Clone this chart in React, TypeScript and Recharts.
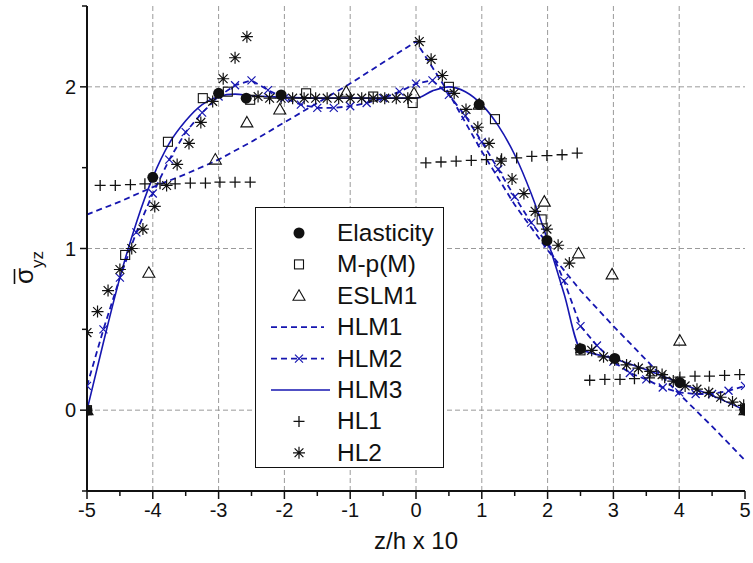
import React from 'react';
import { ComposedChart, Line, Scatter, XAxis, YAxis, CartesianGrid } from 'recharts';

const FONT = '"Liberation Sans", Arial, sans-serif';
const BLUE = '#1616b0';
const INK = '#111';

// axis ticks
const X_TICKS = [-5, -4, -3, -2, -1, 0, 1, 2, 3, 4, 5];
const X_MINOR = [-4.5, -3.5, -2.5, -1.5, -0.5, 0.5, 1.5, 2.5, 3.5, 4.5];
const Y_TICKS = [0, 1, 2];
const Y_MINOR = [-0.5, 0.5, 1.5, 2.5];

// Elasticity (filled circles)
const ELAS_X = [-5, -4, -3, -2.58, -2.05, 0.96, 1.99, 2.5, 3.02, 4.01, 5];
const ELAS_Y = [0, 1.44, 1.96, 1.93, 1.95, 1.89, 1.05, 0.38, 0.32, 0.17, 0];

// M-p(M) (open squares)
const MPM_X = [-5, -4.42, -3.77, -3.24, -2.86, -2.52, -1.67, -0.65, -0.05, 0.5, 1.2, 1.91, 2.5, 3.59, 5];
const MPM_Y = [0, 0.96, 1.66, 1.93, 1.97, 1.92, 1.96, 1.94, 1.9, 2.0, 1.8, 1.18, 0.37, 0.24, 0.01];

// ESLM1 (open triangles)
const ESLM_X = [-5, -4.06, -3.05, -2.57, -2.07, -1.06, -0.03, 0.96, 1.95, 2.47, 2.98, 4.01, 5];
const ESLM_Y = [0, 0.85, 1.55, 1.78, 1.86, 1.97, 1.96, 1.89, 1.29, 0.97, 0.84, 0.43, 0];

// HLM1 (dashed)
const HLM1_X = [-5, -4.5, -4, -3.5, -3, -2.5, -2, -1.5, -1, -0.5, 0, 0.5, 1, 1.5, 2, 2.5, 3, 3.5, 4, 4.5, 5];
const HLM1_Y = [1.21, 1.29, 1.38, 1.46, 1.55, 1.66, 1.78, 1.9, 2.02, 2.15, 2.28, 1.96, 1.6, 1.27, 0.99, 0.74, 0.52, 0.31, 0.1, -0.1, -0.31];

// HLM2 (dashed with crosses)
const HLM2_X = [-5, -4.75, -4.5, -4.25, -4, -3.75, -3.5, -3.25, -3, -2.75, -2.5, -2.25, -2, -1.75, -1.5, -1.25, -1, -0.75, -0.5, -0.25,
  0, 0.25, 0.5, 0.75, 1, 1.25, 1.5, 1.75, 2, 2.25, 2.5, 2.75, 3, 3.25, 3.5, 3.75, 4, 4.25, 4.5, 4.75, 5];
const HLM2_Y = [0.15, 0.5, 0.82, 1.1, 1.34, 1.55, 1.72, 1.84, 1.94, 2.01, 2.04, 1.98, 1.93, 1.89, 1.87, 1.87, 1.88, 1.9, 1.93, 1.97,
  2.02, 2.04, 1.95, 1.82, 1.66, 1.49, 1.32, 1.16, 1.03, 0.8, 0.52, 0.4, 0.3, 0.23, 0.19, 0.14, 0.11, 0.1, 0.1, 0.12, 0.15];

// HLM3 (solid)
const HLM3_X = [-5, -4.75, -4.5, -4.25, -4, -3.75, -3.5, -3.25, -3, -2.75, -2.5, -2.25, -2, -1.5, -1, -0.5, 0, 0.25, 0.5, 0.75,
  1, 1.25, 1.5, 1.75, 2, 2.25, 2.5, 3, 3.5, 4, 4.5, 5];
const HLM3_Y = [0, 0.42, 0.82, 1.16, 1.44, 1.65, 1.79, 1.89, 1.94, 1.955, 1.945, 1.94, 1.935, 1.93, 1.93, 1.93, 1.93, 1.975, 2.0, 1.97,
  1.89, 1.76, 1.58, 1.34, 1.05, 0.72, 0.38, 0.32, 0.25, 0.17, 0.09, 0];

// HL1 (plus)
const HL1_X = [-4.8, -4.57, -4.34, -4.12, -3.89, -3.66, -3.43, -3.2, -2.98, -2.75, -2.52,
  0.15, 0.38, 0.61, 0.84, 1.07, 1.3, 1.53, 1.76, 1.99, 2.22, 2.45,
  2.64, 2.87, 3.1, 3.32, 3.55, 3.78, 4.01, 4.24, 4.46, 4.69, 4.92];
const HL1_Y = [1.39, 1.39, 1.395, 1.4, 1.4, 1.4, 1.405, 1.405, 1.41, 1.41, 1.41,
  1.53, 1.535, 1.54, 1.545, 1.55, 1.555, 1.56, 1.57, 1.575, 1.58, 1.59,
  0.185, 0.19, 0.19, 0.195, 0.2, 0.2, 0.205, 0.21, 0.21, 0.215, 0.22];

// HL2 (asterisks)
const HL2_X = [-5, -4.84, -4.68, -4.5, -4.32, -4.15, -3.97, -3.79, -3.63, -3.45, -3.27, -3.09, -2.93, -2.75, -2.57,
  -2.4, -2.225, -2.05, -1.875, -1.7, -1.525, -1.35, -1.175, -1.0, -0.825, -0.65, -0.475, -0.3, -0.125,
  0.05, 0.23, 0.4, 0.58, 0.76, 0.94, 1.11, 1.29, 1.46, 1.64, 1.81, 1.99, 2.16, 2.33,
  2.49, 2.67, 2.85, 3.02, 3.2, 3.38, 3.56, 3.74, 3.91, 4.09, 4.27, 4.45, 4.63, 4.81, 4.98];
const HL2_Y = [0.48, 0.61, 0.74, 0.87, 1.0, 1.12, 1.26, 1.39, 1.52, 1.65, 1.78, 1.91, 2.05, 2.18, 2.31,
  1.94, 1.93, 1.93, 1.93, 1.93, 1.93, 1.93, 1.93, 1.93, 1.93, 1.93, 1.93, 1.93, 1.93,
  2.28, 2.17, 2.07, 1.96, 1.86, 1.75, 1.65, 1.54, 1.43, 1.34, 1.23, 1.12, 1.02, 0.91,
  0.38, 0.37, 0.33, 0.31, 0.28, 0.26, 0.24, 0.22, 0.18, 0.15, 0.13, 0.11, 0.08, 0.05, 0.03];

const LEGEND_NAMES = ['Elasticity', 'M-p(M)', 'ESLM1', 'HLM1', 'HLM2', 'HLM3', 'HL1', 'HL2'];

const pts = (xs: number[], ys: number[]) => xs.map((x, i) => ({ x, y: ys[i] }));

const elas = pts(ELAS_X, ELAS_Y);
const mpm = pts(MPM_X, MPM_Y);
const eslm = pts(ESLM_X, ESLM_Y);
const hlm1 = pts(HLM1_X, HLM1_Y);
const hlm2 = pts(HLM2_X, HLM2_Y);
const hlm3 = pts(HLM3_X, HLM3_Y);
const hl1 = pts(HL1_X, HL1_Y);
const hl2 = pts(HL2_X, HL2_Y);

const ALL_X = [...X_TICKS, ...X_MINOR].sort((a, b) => a - b);
const ALL_Y = [...Y_TICKS, ...Y_MINOR].sort((a, b) => a - b);

// marker shapes, shared by chart and legend
function marker(kind: string, cx: number, cy: number, key?: any) {
  switch (kind) {
    case 'circle':
      return <circle key={key} cx={cx} cy={cy} r={5.5} fill={INK} />;
    case 'square':
      return <rect key={key} x={cx - 4.5} y={cy - 4.5} width={9} height={9} fill="none" stroke={INK} strokeWidth={1.1} />;
    case 'triangle':
      return <path key={key} d={`M${cx},${cy - 6}L${cx + 6},${cy + 4.5}L${cx - 6},${cy + 4.5}Z`} fill="none" stroke={INK} strokeWidth={1.1} />;
    case 'plus':
      return <path key={key} d={`M${cx - 5.5},${cy}H${cx + 5.5}M${cx},${cy - 5.5}V${cy + 5.5}`} stroke={INK} strokeWidth={1.3} />;
    case 'star':
      return <path key={key} d={`M${cx - 6},${cy}H${cx + 6}M${cx},${cy - 6}V${cy + 6}M${cx - 4.4},${cy - 4.4}L${cx + 4.4},${cy + 4.4}M${cx - 4.4},${cy + 4.4}L${cx + 4.4},${cy - 4.4}`} stroke={INK} strokeWidth={1.2} />;
    case 'cross':
      return <path key={key} d={`M${cx - 4},${cy - 4}L${cx + 4},${cy + 4}M${cx - 4},${cy + 4}L${cx + 4},${cy - 4}`} stroke={BLUE} strokeWidth={1.2} />;
    default:
      return <g key={key} />;
  }
}

const shapeOf = (kind: string) => (p: any) => marker(kind, p.cx, p.cy);

function BottomTick({ x, y, payload }: any) {
  const major = X_TICKS.includes(payload.value);
  return (
    <g>
      <line x1={x} x2={x} y1={y} y2={y + (major ? 8 : 5)} stroke={INK} strokeWidth={1.5} />
      {major && (
        <text x={x} y={y + 26} textAnchor="middle" fontSize={20} fontFamily={FONT} fill={INK}>{String(payload.value)}</text>
      )}
    </g>
  );
}

function TopTick({ x, y, payload }: any) {
  const major = X_TICKS.includes(payload.value);
  return <line x1={x} x2={x} y1={y} y2={y + (major ? 10 : 6)} stroke={INK} strokeWidth={1.5} />;
}

function LeftTick({ x, y, payload }: any) {
  const major = Y_TICKS.includes(payload.value);
  return (
    <g>
      <line x1={x} x2={x - (major ? 7 : 5)} y1={y} y2={y} stroke={INK} strokeWidth={1.5} />
      {major && (
        <text x={x - 11} y={y + 7} textAnchor="end" fontSize={20} fontFamily={FONT} fill={INK}>{String(payload.value)}</text>
      )}
    </g>
  );
}

function RightTick({ x, y, payload }: any) {
  const major = Y_TICKS.includes(payload.value);
  return <line x1={x} x2={x - (major ? 10 : 5)} y1={y} y2={y} stroke={INK} strokeWidth={1.5} />;
}

const KINDS: Record<string, string> = {
  'Elasticity': 'circle', 'M-p(M)': 'square', 'ESLM1': 'triangle', 'HL1': 'plus', 'HL2': 'star',
};

function ChartLegend() {
  const rowH = 31.4;
  return (
    <div style={{ position: 'absolute', left: 255, top: 207, width: 187, height: 259, border: '1.3px solid #111', background: '#fff' }}>
      <svg width={187} height={259}>
        {LEGEND_NAMES.map((name, i) => {
          const cy = 25 + i * rowH;
          let icon: any;
          if (name === 'HLM1') icon = <line x1={15} x2={68} y1={cy} y2={cy} stroke={BLUE} strokeWidth={1.8} strokeDasharray="6 4" />;
          else if (name === 'HLM2') icon = (
            <g>
              <line x1={15} x2={68} y1={cy} y2={cy} stroke={BLUE} strokeWidth={1.8} strokeDasharray="6 4" />
              {marker('cross', 43, cy)}
            </g>
          );
          else if (name === 'HLM3') icon = <line x1={15} x2={74} y1={cy} y2={cy} stroke={BLUE} strokeWidth={1.6} />;
          else icon = marker(KINDS[name], 43, cy);
          return (
            <g key={name}>
              {icon}
              <text x={81} y={cy + 8} fontSize={24.5} fontFamily={FONT} fill={INK}>{name}</text>
            </g>
          );
        })}
      </svg>
    </div>
  );
}

export default function App() {
  return (
    <div style={{ position: 'absolute', left: 0, top: 0, width: 753, height: 563, background: '#fff' }}>
      <ComposedChart width={753} height={563} margin={{ top: 6, right: 8, bottom: 0, left: 0 }}>
        <CartesianGrid xAxisId="b" yAxisId="l" verticalValues={X_TICKS.slice(1, -1)} horizontalValues={Y_TICKS}
          stroke="#9a9a9a" strokeDasharray="5 3" />
        <XAxis xAxisId="b" dataKey="x" type="number" domain={[-5, 5]} allowDataOverflow ticks={ALL_X} interval={0}
          tick={BottomTick} tickLine={false} tickSize={0} tickMargin={0} height={72}
          axisLine={{ stroke: INK, strokeWidth: 2 }}
          label={{ value: 'z/h x 10', position: 'insideBottom', offset: 14, fontSize: 24, fontFamily: FONT, fill: INK }} />
        <XAxis xAxisId="top" orientation="top" dataKey="x" type="number" domain={[-5, 5]} allowDataOverflow ticks={ALL_X}
          interval={0} tick={TopTick} tickLine={false} tickSize={0} tickMargin={0} height={0}
          axisLine={{ stroke: INK, strokeWidth: 2 }} />
        <YAxis yAxisId="l" type="number" domain={[-0.5, 2.5]} allowDataOverflow ticks={ALL_Y} interval={0} width={87}
          tick={LeftTick} tickLine={false} tickSize={0} tickMargin={0} axisLine={{ stroke: INK, strokeWidth: 2 }} />
        <YAxis yAxisId="r" orientation="right" type="number" domain={[-0.5, 2.5]} allowDataOverflow ticks={ALL_Y}
          interval={0} width={0} tick={RightTick} tickLine={false} tickSize={0} tickMargin={0}
          axisLine={{ stroke: INK, strokeWidth: 2 }} />

        <Line xAxisId="b" yAxisId="l" data={hlm1} dataKey="y" type="linear" stroke={BLUE} strokeWidth={1.8}
          strokeDasharray="6 4" dot={false} isAnimationActive={false} />
        <Line xAxisId="b" yAxisId="l" data={hlm2} dataKey="y" type="linear" stroke={BLUE} strokeWidth={1.8}
          strokeDasharray="6 4" dot={(p: any) => marker('cross', p.cx, p.cy, p.index)} isAnimationActive={false} />
        <Line xAxisId="b" yAxisId="l" data={hlm3} dataKey="y" type="monotone" stroke={BLUE} strokeWidth={1.6}
          dot={false} isAnimationActive={false} />

        <Scatter xAxisId="b" yAxisId="l" data={hl1} dataKey="y" shape={shapeOf('plus')} isAnimationActive={false} />
        <Scatter xAxisId="b" yAxisId="l" data={hl2} dataKey="y" shape={shapeOf('star')} isAnimationActive={false} />
        <Scatter xAxisId="b" yAxisId="l" data={eslm} dataKey="y" shape={shapeOf('triangle')} isAnimationActive={false} />
        <Scatter xAxisId="b" yAxisId="l" data={mpm} dataKey="y" shape={shapeOf('square')} isAnimationActive={false} />
        <Scatter xAxisId="b" yAxisId="l" data={elas} dataKey="y" shape={shapeOf('circle')} isAnimationActive={false} />
      </ComposedChart>

      <ChartLegend />

      <svg style={{ position: 'absolute', left: 0, top: 0, pointerEvents: 'none' }} width={60} height={563}>
        <g transform="translate(33,284) rotate(-90)">
          <line x1={0} x2={15} y1={-18.5} y2={-18.5} stroke={INK} strokeWidth={1.6} />
          <text x={0} y={0} fontSize={26} fontFamily={FONT} fill={INK}>σ</text>
          <text x={16} y={10} fontSize={17} fontFamily={FONT} fill={INK}>yz</text>
        </g>
      </svg>
    </div>
  );
}
